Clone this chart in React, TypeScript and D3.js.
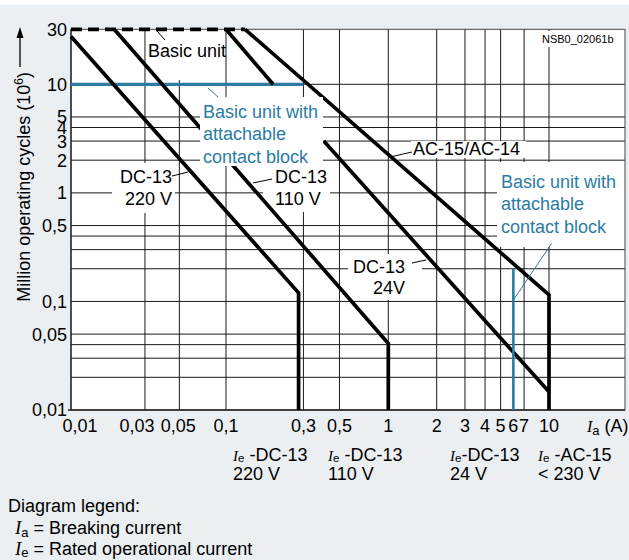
import React from 'react';
import * as d3 from 'd3';

const W = 629;
const H = 560;

// Axis anchors (log decades)
const xAnchors = [0.01, 0.1, 1, 10, 30];
const yAnchors = [0.01, 10, 30];

const xTickValues = [0.01, 0.03, 0.05, 0.1, 0.3, 0.5, 1, 2, 3, 4, 5, 6, 7, 10];
const xTickLabels = ['0,01', '0,03', '0,05', '0,1', '0,3', '0,5', '1', '2', '3', '4', '5', '6', '7', '10'];
const xGridValues = [0.03, 0.05, 0.1, 0.3, 0.5, 1, 2, 3, 4, 5, 7, 10];
const yTickValues = [0.01, 0.05, 0.1, 0.5, 1, 2, 3, 4, 5, 10, 30];
const yTickLabels = ['0,01', '0,05', '0,1', '0,5', '1', '2', '3', '4', '5', '10', '30'];
const yGridValues = [0.02, 0.03, 0.04, 0.05, 0.1, 0.2, 0.3, 0.4, 0.5, 1, 2, 3, 4, 5, 10];

// Curves [breaking current A, million operating cycles]
const dc220 = [[0.01, 26], [0.28, 0.12], [0.28, 0.01]];
const dc110 = [[0.019, 30], [1, 0.041], [1, 0.01]];
const dc24Upper = [[0.1, 30], [0.195, 10]];
const dc24Lower = [[0.4, 3], [10, 0.0147]];
const ac15 = [[0.131, 30], [10, 0.115], [10, 0.01]];
const basicLimit = [[0.01, 30], [0.131, 30]];
const blockLimitH = [[0.01, 10], [0.3, 10]];
const blockLimitV = [[6, 0.2], [6, 0.01]];

const BLUE = '#2a7ca5';
const BG = '#eceff2';
const FONT = 'Liberation Sans, Arial, sans-serif';
const SERIF = 'Liberation Serif, Times New Roman, serif';

const PL = 71, PR = 625, PT = 29.3, PB = 410;

// x tick label nudges (label layout)
const xTickDx = [9, -8, -1, 0, 0, 0, 0, 0, 0, 0, 0, 0, 0, 0];

// white masks behind labels [x0, y0, x1, y1]
const masksUnder = [
  [147, 31, 224, 80],
  [112, 163, 175, 213],
  [263, 163, 330, 212],
  [411, 141, 526, 158],
  [348, 254, 422, 300],
  [497, 162, 625, 247],
  [540, 31, 619, 47],
];
const masksOver = [[200, 97, 323, 166]];

export default function App() {
  const x = d3.scaleLog().domain(xAnchors).range([PL, 226, 388.3, 549, PR]);
  const y = d3.scaleLog().domain(yAnchors).range([PB, 84.3, PT]);
  const line = d3.line<number[]>().x(d => x(d[0])).y(d => y(d[1]));

  const thick = { fill: 'none', stroke: '#000', strokeWidth: 3.7, strokeLinejoin: 'miter' as const };

  return (
    <svg width={W} height={H} style={{ position: 'absolute', left: 0, top: 0, display: 'block' }}
      fontFamily={FONT}>
      <rect x={0} y={0} width={W} height={H} fill={BG} />
      <rect x={0} y={0} width={W} height={5} fill="#fff" />
      <rect x={PL} y={PT} width={PR - PL} height={PB - PT} fill="#fff" />

      {/* grid */}
      <g stroke="#1a1a1a" strokeWidth={1}>
        {xGridValues.map(v => (
          <line key={'gx' + v} x1={x(v)} x2={x(v)} y1={PT} y2={PB} />
        ))}
        {yGridValues.map(v => (
          <line key={'gy' + v} x1={PL} x2={PR} y1={y(v)} y2={y(v)} />
        ))}
      </g>
      {masksUnder.map((m, i) => (
        <rect key={'mu' + i} x={m[0]} y={m[1]} width={m[2] - m[0]} height={m[3] - m[1]} fill="#fff" />
      ))}
      {/* frame */}
      <rect x={PL} y={PT} width={PR - PL} height={PB - PT} fill="none" stroke="#444" strokeWidth={1} />
      <line x1={PL} x2={PL} y1={PT} y2={PB} stroke="#222" strokeWidth={1.3} />
      <line x1={PL - 3} x2={PR} y1={PB} y2={PB} stroke="#222" strokeWidth={1.3} />

      {/* curves */}
      <path d={line(basicLimit) || ''} {...thick} strokeDasharray="11 6" />
      <path d={line(blockLimitH) || ''} fill="none" stroke={BLUE} strokeWidth={3.3} />
      <path d={line(dc220) || ''} {...thick} />
      <path d={line(dc110) || ''} {...thick} />
      <path d={line(dc24Upper) || ''} {...thick} />
      <path d={line(dc24Lower) || ''} {...thick} />
      <path d={line(ac15) || ''} {...thick} />
      <path d={line(blockLimitV) || ''} fill="none" stroke={BLUE} strokeWidth={2.6} />

      {masksOver.map((m, i) => (
        <rect key={'mo' + i} x={m[0]} y={m[1]} width={m[2] - m[0]} height={m[3] - m[1]} fill="#fff" />
      ))}

      {/* leaders */}
      <g stroke="#000" strokeWidth={1}>
        <line x1={157} y1={31} x2={165} y2={40} />
        <line x1={172} y1={176} x2={188} y2={172} />
        <line x1={253} y1={183} x2={272} y2={179} />
        <line x1={390} y1={157} x2={412} y2={152} />
        <line x1={412} y1={263} x2={426} y2={260} />
      </g>
      <g stroke={BLUE} strokeWidth={1}>
        <line x1={208} y1={88} x2={218} y2={97} />
        <line x1={551.7} y1={243.3} x2={x(6)} y2={300} />
      </g>

      {/* curve labels */}
      <g fontSize={18} fill="#000">
        <text x={148} y={57}>Basic unit</text>
        <text x={172} y={183} textAnchor="end">DC-13</text>
        <text x={172} y={205} textAnchor="end">220 V</text>
        <text x={275} y={183}>DC-13</text>
        <text x={275} y={205}>110 V</text>
        <text x={413} y={155}>AC-15/AC-14</text>
        <text x={405} y={273} textAnchor="end">DC-13</text>
        <text x={405} y={294} textAnchor="end">24V</text>
      </g>
      <g fontSize={18} fill={BLUE}>
        <text x={203} y={118}>Basic unit with</text>
        <text x={203} y={140}>attachable</text>
        <text x={203} y={163}>contact block</text>
        <text x={501} y={188}>Basic unit with</text>
        <text x={501} y={210}>attachable</text>
        <text x={501} y={233}>contact block</text>
      </g>
      <text x={542} y={43} fontSize={11} fill="#000">NSB0_02061b</text>

      {/* y ticks */}
      <g fontSize={18} fill="#000" textAnchor="end">
        {yTickValues.map((v, i) => (
          <text key={'yt' + v} x={67} y={y(v)} dy="0.36em">{yTickLabels[i]}</text>
        ))}
      </g>
      {/* x ticks */}
      <g fontSize={18} fill="#000" textAnchor="middle">
        {xTickValues.map((v, i) => (
          <text key={'xt' + v} x={x(v) + xTickDx[i]} y={431.7}>{xTickLabels[i]}</text>
        ))}
      </g>
      <text x={587} y={431.7} fontSize={18} fill="#000">
        <tspan fontFamily={SERIF} fontStyle="italic" fontSize={16}>I</tspan>
        <tspan fontSize={13} dy={3}>a</tspan>
        <tspan dy={-3}> (A)</tspan>
      </text>

      {/* y title */}
      <text transform="translate(30,72) rotate(-90)" textAnchor="end" fontSize={18} fill="#000">
        Million operating cycles (10<tspan fontSize={12} dy={-7}>6</tspan><tspan dy={7}>)</tspan>
      </text>
      <line x1={20} x2={20} y1={67} y2={36} stroke="#000" strokeWidth={1.3} />
      <path d="M20,27 L16.5,38 L23.5,38 Z" fill="#000" />

      {/* Ie labels */}
      <g fontSize={18} fill="#000">
        {[
          { x: 233, a: ' -DC-13', b: '220 V' },
          { x: 328, a: ' -DC-13', b: '110 V' },
          { x: 450, a: '-DC-13', b: '24 V' },
          { x: 538, a: ' -AC-15', b: '< 230 V' },
        ].map((d, i) => (
          <g key={'ie' + i}>
            <text x={d.x} y={461}>
              <tspan fontFamily={SERIF} fontStyle="italic" fontSize={15}>I</tspan>
              <tspan fontSize={11.5} dy={1}>e</tspan>
              <tspan dy={-1}>{d.a}</tspan>
            </text>
            <text x={d.x} y={479.5}>{d.b}</text>
          </g>
        ))}
      </g>

      {/* legend */}
      <g fontSize={18} fill="#000">
        <text x={8} y={512}>Diagram legend:</text>
        <text x={15} y={534}>
          <tspan fontFamily={SERIF} fontStyle="italic" fontSize={19}>I</tspan>
          <tspan fontSize={13} dy={3}>a</tspan>
          <tspan dy={-3}> = Breaking current</tspan>
        </text>
        <text x={15} y={554.5}>
          <tspan fontFamily={SERIF} fontStyle="italic" fontSize={19}>I</tspan>
          <tspan fontSize={13} dy={2}>e</tspan>
          <tspan dy={-2}> = Rated operational current</tspan>
        </text>
      </g>
    </svg>
  );
}
